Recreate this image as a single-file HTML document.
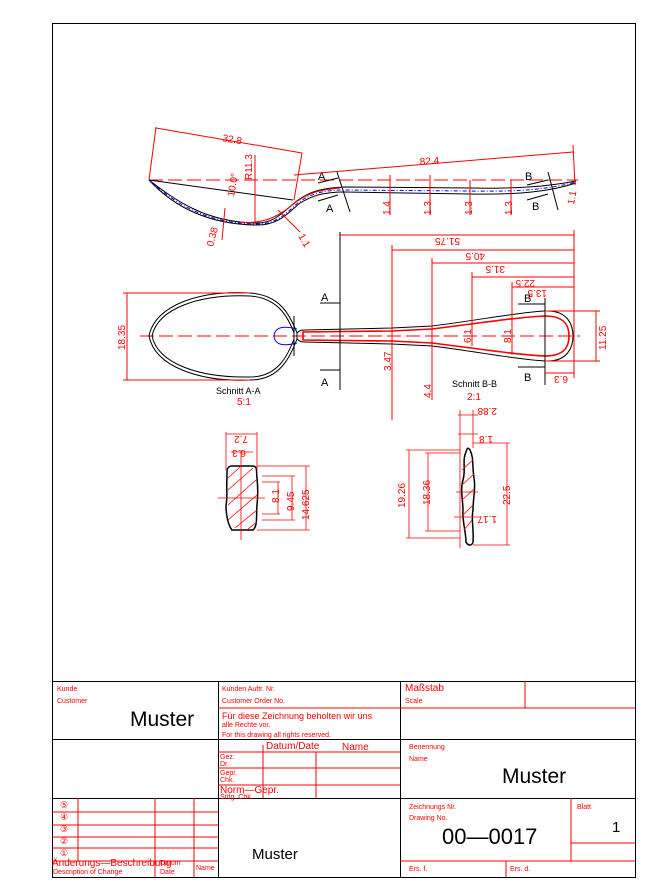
<!DOCTYPE html>
<html><head><meta charset="utf-8"><style>
html,body{margin:0;padding:0;background:#fff;width:654px;height:896px;overflow:hidden}
svg{display:block}
text{font-family:"Liberation Sans",sans-serif}
</style></head><body>
<svg width="654" height="896" viewBox="0 0 654 896" xmlns="http://www.w3.org/2000/svg">
<rect x="52.5" y="23.5" width="583" height="854" fill="none" stroke="#000" stroke-width="1"/>

<!-- SIDE VIEW -->
<g fill="none" stroke-width="1">
<line x1="149" y1="180" x2="578" y2="180" stroke="red" stroke-dasharray="14,5"/>
<path d="M149,180 C175,200 205,222 255,223 C275,224 285,210 298,200 C310,192 320,188 345,187 L470,188 C520,189 550,186 576,181" stroke="#000"/>
<path d="M149,180 C172,205 205,224 255,225 C278,226 288,213 300,203 C312,196 322,192 345,192 L470,194 C520,195 552,191 576,183" stroke="#000"/>
<path d="M150,181 C175,203 205,223 255,224 C277,225 287,212 299,202 C311,194 322,190 345,190 L470,191 C520,192 550,189 576,182" stroke="blue" stroke-dasharray="4,2,1,2"/>
<path d="M149,180 L293,200" stroke="#000"/>
<path d="M240,222 C265,225 282,214 296,202 C310,192 320,190 340,188" stroke="red"/>
<line x1="156" y1="127" x2="149" y2="180" stroke="red"/>
<line x1="156" y1="128" x2="302" y2="153" stroke="red"/>
<line x1="302" y1="153" x2="294" y2="200" stroke="red"/>
<line x1="294" y1="175" x2="573" y2="152" stroke="red"/>
<line x1="573" y1="145" x2="575" y2="185" stroke="red"/>
<line x1="255" y1="155" x2="255" y2="222" stroke="red"/>
<line x1="390" y1="175" x2="390" y2="215" stroke="red"/>
<line x1="430" y1="175" x2="430" y2="215" stroke="red"/>
<line x1="470" y1="180" x2="470" y2="215" stroke="red"/>
<line x1="511" y1="180" x2="511" y2="215" stroke="red"/>
<line x1="222" y1="240" x2="225" y2="208" stroke="red"/>
<line x1="278" y1="210" x2="300" y2="232" stroke="red"/>
<line x1="337" y1="172" x2="350" y2="212" stroke="#000"/>
<line x1="548" y1="172" x2="558" y2="210" stroke="#000"/>
<line x1="318" y1="183" x2="338" y2="178" stroke="#000"/>
<line x1="318" y1="201" x2="338" y2="195" stroke="#000"/>
<line x1="527" y1="185" x2="548" y2="180" stroke="#000"/>
<line x1="527" y1="200" x2="548" y2="194" stroke="#000"/>
</g>
<g fill="red" font-size="10">
<text x="222" y="141" transform="rotate(10 222 141)">32.8</text>
<text x="420" y="165" transform="rotate(-4 420 165)">82.4</text>
<text x="252" y="180" transform="rotate(-90 252 180)">R11.3</text>
<text x="234" y="197" transform="rotate(-80 234 197)">10.0°</text>
<text x="213" y="247" transform="rotate(-75 213 247)">0.38</text>
<text x="298" y="236" transform="rotate(60 298 236)">1.1</text>
<text x="390" y="215" transform="rotate(-90 390 215)">1.4</text>
<text x="431" y="215" transform="rotate(-90 431 215)">1.3</text>
<text x="472" y="215" transform="rotate(-90 472 215)">1.3</text>
<text x="512" y="215" transform="rotate(-90 512 215)">1.3</text>
<text x="574" y="205" transform="rotate(-80 574 205)">1.1</text>
</g>
<g font-size="11" fill="#000">
<text x="318" y="180">A</text><text x="326" y="212">A</text>
<text x="525" y="180">B</text><text x="532" y="210">B</text>
</g>

<!-- TOP VIEW -->
<g fill="none" stroke-width="1">
<line x1="140" y1="336" x2="580" y2="336" stroke="red" stroke-dasharray="14,5"/>
<path d="M149,336 C155,305 200,290 250,293 C280,295 290,315 297,333 L297,339 C290,357 280,380 250,380 C200,382 155,367 149,336 Z" stroke="#000"/>
<path d="M152,336 C158,308 200,294 250,296 C278,298 288,317 294,333 L294,339 C288,355 278,377 250,377 C200,378 158,364 152,336 Z" stroke="#000"/>
<path d="M297,333 C300,330 302,330 305,330 L392,328 L432,326 C480,320 520,312 545,311 C568,310 573,325 573,336 C573,347 568,362 545,361 C520,360 480,352 432,346 L392,344 L305,342 C302,342 300,342 297,339" stroke="#000"/>
<path d="M303,332 L392,331 L432,329 C480,323 520,317 545,316 C565,316 569,326 569,336 C569,346 565,356 545,356 C520,355 480,349 432,343 L392,341 L303,340 Z" stroke="red" stroke-width="1.6"/>
<path d="M297,329 C285,326 275,326 274,336 C275,346 285,346 297,343" stroke="blue"/>
<line x1="340" y1="232" x2="340" y2="390" stroke="#000"/>
<line x1="545" y1="298" x2="545" y2="385" stroke="#000"/>
<line x1="294" y1="316" x2="294" y2="356" stroke="#000"/>
<line x1="320" y1="303" x2="340" y2="303" stroke="#000"/>
<line x1="320" y1="370" x2="340" y2="370" stroke="#000"/>
<line x1="518" y1="304" x2="545" y2="304" stroke="#000"/>
<line x1="518" y1="367" x2="545" y2="367" stroke="#000"/>
<g stroke="red">
<line x1="340" y1="235" x2="574" y2="235"/><line x1="392" y1="250" x2="574" y2="250"/>
<line x1="432" y1="263" x2="574" y2="263"/><line x1="472" y1="277" x2="574" y2="277"/>
<line x1="512" y1="287" x2="574" y2="287"/><line x1="574" y1="230" x2="574" y2="378"/>
<line x1="392" y1="245" x2="392" y2="420"/><line x1="432" y1="258" x2="432" y2="400"/>
<line x1="472" y1="272" x2="472" y2="345"/><line x1="512" y1="282" x2="512" y2="355"/>
<line x1="545" y1="373" x2="574" y2="373"/>
<line x1="123" y1="293" x2="250" y2="293"/><line x1="123" y1="380" x2="250" y2="380"/>
<line x1="127" y1="293" x2="127" y2="380"/>
<line x1="545" y1="311" x2="600" y2="311"/><line x1="545" y1="361" x2="600" y2="361"/>
<line x1="596" y1="311" x2="596" y2="361"/>
<line x1="472" y1="326" x2="472" y2="346"/><line x1="512" y1="320" x2="512" y2="352"/>
</g>
</g>
<g fill="red" font-size="10">
<text x="460" y="238" transform="rotate(180 460 238)">51.75</text>
<text x="485" y="253" transform="rotate(180 485 253)">40.5</text>
<text x="505" y="266" transform="rotate(180 505 266)">31.5</text>
<text x="535" y="280" transform="rotate(180 535 280)">22.5</text>
<text x="547" y="290" transform="rotate(180 547 290)">13.5</text>
<text x="568" y="376" transform="rotate(180 568 376)">6.3</text>
<text x="125" y="350" transform="rotate(-90 125 350)">18.35</text>
<text x="606" y="350" transform="rotate(-90 606 350)">11.25</text>
<text x="391" y="371" transform="rotate(-90 391 371)">3.47</text>
<text x="431" y="398" transform="rotate(-90 431 398)">4.4</text>
<text x="471" y="343" transform="rotate(-90 471 343)">6.1</text>
<text x="511" y="343" transform="rotate(-90 511 343)">8.1</text>
<text x="237" y="405">5:1</text><text x="467" y="400">2:1</text>
</g>
<g font-size="11" fill="#000">
<text x="321" y="301">A</text><text x="321" y="386">A</text>
<text x="524" y="302">B</text><text x="524" y="381">B</text>
<text font-size="9" x="216" y="394">Schnitt A-A</text>
<text font-size="9" x="452" y="387">Schnitt B-B</text>
</g>

<!-- SECTION A-A -->
<g fill="none">
<path d="M232,466 C226,466 227,472 227,478 C226,488 228,496 226,505 C226,515 228,525 232,530 L253,530 C258,526 256,515 257,505 C258,496 258,488 257,478 C256,470 258,466 252,466 Z" stroke="#000" stroke-width="1.5"/>
<g stroke="red" stroke-width="0.8">
<line x1="228" y1="490" x2="253" y2="468"/><line x1="228" y1="505" x2="256" y2="480"/>
<line x1="228" y1="520" x2="257" y2="495"/><line x1="235" y1="528" x2="257" y2="510"/>
<line x1="248" y1="529" x2="257" y2="522"/><line x1="228" y1="478" x2="240" y2="467"/>
<line x1="241" y1="450" x2="241" y2="540"/><line x1="218" y1="498" x2="265" y2="498"/>
<line x1="226" y1="432" x2="226" y2="470"/><line x1="257" y1="432" x2="257" y2="470"/>
<line x1="226" y1="434" x2="257" y2="434"/><line x1="231" y1="452" x2="253" y2="452"/>
<line x1="257" y1="466" x2="310" y2="466"/><line x1="257" y1="530" x2="310" y2="530"/>
<line x1="306" y1="466" x2="306" y2="530"/>
<line x1="262" y1="476" x2="295" y2="476"/><line x1="262" y1="520" x2="295" y2="520"/>
<line x1="292" y1="476" x2="292" y2="520"/>
<line x1="262" y1="482" x2="280" y2="482"/><line x1="262" y1="514" x2="280" y2="514"/>
<line x1="278" y1="482" x2="278" y2="514"/>
</g>
</g>
<g fill="red" font-size="10">
<text x="248" y="436" transform="rotate(180 248 436)">7.2</text>
<text x="246" y="450" transform="rotate(180 246 450)">6.3</text>
<text x="279" y="503" transform="rotate(-90 279 503)">8.1</text>
<text x="294" y="511" transform="rotate(-90 294 511)">9.45</text>
<text x="309" y="520" transform="rotate(-90 309 520)">14.625</text>
</g>

<!-- SECTION B-B -->
<g fill="none">
<path d="M466,452 C462,460 466,470 463,480 C460,490 463,500 463,510 C462,520 466,532 466,542 C468,546 472,546 473,542 C474,530 471,520 473,510 C473,498 476,488 474,478 C472,465 474,458 470,450 C468,447 467,448 466,452 Z" stroke="#000" stroke-width="1.5"/>
<g stroke="red" stroke-width="0.8">
<line x1="462" y1="470" x2="473" y2="460"/><line x1="462" y1="485" x2="474" y2="474"/>
<line x1="462" y1="500" x2="474" y2="489"/><line x1="463" y1="515" x2="473" y2="505"/>
<line x1="464" y1="530" x2="472" y2="520"/>
<line x1="460" y1="410" x2="460" y2="548"/><line x1="473" y1="410" x2="473" y2="448"/>
<line x1="458" y1="415" x2="478" y2="415"/><line x1="458" y1="434" x2="478" y2="434"/>
<line x1="406" y1="450" x2="460" y2="450"/><line x1="406" y1="538" x2="460" y2="538"/>
<line x1="409" y1="450" x2="409" y2="538"/>
<line x1="425" y1="453" x2="460" y2="453"/><line x1="425" y1="531" x2="460" y2="531"/>
<line x1="428" y1="453" x2="428" y2="531"/>
<line x1="473" y1="443" x2="510" y2="443"/><line x1="473" y1="545" x2="510" y2="545"/>
<line x1="507" y1="443" x2="507" y2="545"/>
<line x1="454" y1="517" x2="480" y2="517"/><line x1="456" y1="492" x2="478" y2="492"/>
</g>
</g>
<g fill="red" font-size="10">
<text x="497" y="408" transform="rotate(180 497 408)">2.88</text>
<text x="493" y="436" transform="rotate(180 493 436)">1.8</text>
<text x="497" y="516" transform="rotate(180 497 516)">1.17</text>
<text x="405" y="508" transform="rotate(-90 405 508)">19.26</text>
<text x="430" y="505" transform="rotate(-90 430 505)">18.36</text>
<text x="510" y="505" transform="rotate(-90 510 505)">22.5</text>
</g>

<!-- TITLE BLOCK -->
<g stroke="#000" stroke-width="1" fill="none">
<line x1="52" y1="681.5" x2="635" y2="681.5"/>
<line x1="52" y1="739.5" x2="635" y2="739.5"/>
<line x1="52" y1="798.5" x2="635" y2="798.5"/>
<line x1="218.5" y1="681" x2="218.5" y2="877"/>
<line x1="400.5" y1="681" x2="400.5" y2="877"/>
</g>
<g stroke="red" stroke-width="1">
<line x1="218" y1="708" x2="400" y2="708"/>
<line x1="400" y1="708" x2="635" y2="708"/>
<line x1="525" y1="681" x2="525" y2="708"/>
<line x1="218" y1="752" x2="400" y2="752"/>
<line x1="218" y1="768" x2="400" y2="768"/>
<line x1="218" y1="785" x2="400" y2="785"/>
<line x1="263" y1="745" x2="263" y2="798"/>
<line x1="316" y1="752" x2="316" y2="798"/>
<line x1="571" y1="798" x2="571" y2="861"/>
<line x1="571" y1="843" x2="635" y2="843"/>
<line x1="400" y1="861" x2="635" y2="861"/>
<line x1="506" y1="861" x2="506" y2="877"/>
<line x1="52" y1="812" x2="218" y2="812"/>
<line x1="52" y1="825" x2="218" y2="825"/>
<line x1="52" y1="837" x2="218" y2="837"/>
<line x1="52" y1="848" x2="218" y2="848"/>
<line x1="52" y1="861" x2="218" y2="861"/>
<line x1="78" y1="798" x2="78" y2="861"/>
<line x1="155" y1="798" x2="155" y2="877"/>
<line x1="194" y1="798" x2="194" y2="877"/>
</g>
<g fill="red" font-size="7">
<text x="57" y="691">Kunde</text><text x="57" y="703">Customer</text>
<text x="222" y="691">Kunden Auftr. Nr.</text><text x="222" y="703">Customer Order No.</text>
<text x="222" y="719" font-size="9">Für diese Zeichnung beholten wir uns</text>
<text x="222" y="727">alle Rechte vor.</text>
<text x="222" y="737">For this drawing all rights reserved.</text>
<text x="405" y="691" font-size="10">Maßstab</text><text x="405" y="703">Scale</text>
<text x="266" y="749" font-size="10">Datum/Date</text><text x="342" y="750" font-size="10">Name</text>
<text x="220" y="759">Gez.</text><text x="220" y="766">Dr.</text>
<text x="220" y="775">Gepr.</text><text x="220" y="782">Chk.</text>
<text x="220" y="793" font-size="10">Norm—Gepr.</text><text x="220" y="799">Stdg. Chk.</text>
<text x="409" y="749">Benennung</text><text x="409" y="761">Name</text>
<text x="409" y="809">Zeichnungs Nr.</text><text x="409" y="820">Drawing No.</text>
<text x="577" y="809">Blatt</text>
<text x="409" y="871">Ers. f.</text><text x="510" y="871">Ers. d.</text>
<text x="52" y="866" font-size="10">Änderungs—Beschreibung</text><text x="53" y="874">Description of Change</text>
<text x="160" y="865">Datum</text><text x="160" y="874">Date</text>
<text x="196" y="870">Name</text>
<text x="60" y="808" font-size="9">⑤</text><text x="60" y="820" font-size="9">④</text>
<text x="60" y="832" font-size="9">③</text><text x="60" y="844" font-size="9">②</text>
<text x="60" y="856" font-size="9">①</text>
</g>
<g fill="#000">
<text x="130" y="726" font-size="21">Muster</text>
<text x="502" y="783" font-size="21">Muster</text>
<text x="252" y="859" font-size="15">Muster</text>
<text x="442" y="844" font-size="22">00—0017</text>
<text x="612" y="832" font-size="15">1</text>
</g>
</svg>
</body></html>
